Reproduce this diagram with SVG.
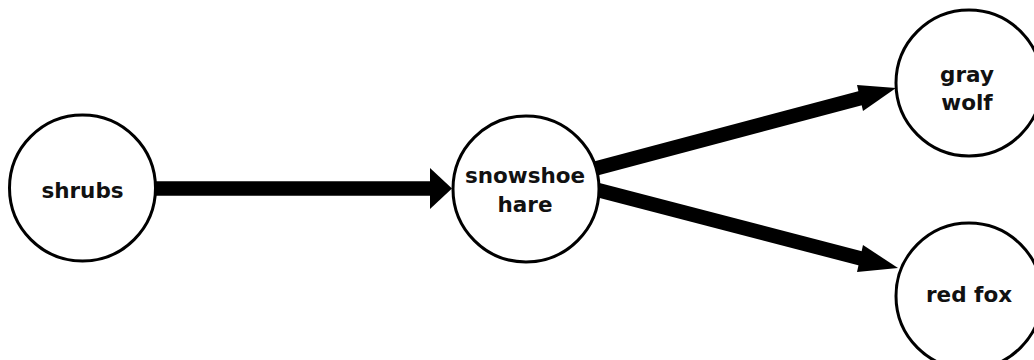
<svg xmlns="http://www.w3.org/2000/svg" width="1034" height="360" viewBox="0 0 1034 360">
<style>
.node{fill:#fff;stroke:#000;stroke-width:3}
.lbl{font-family:"DejaVu Sans",sans-serif;font-weight:bold;font-size:21.5px;fill:#111;text-anchor:middle}
.edge{stroke:#000;stroke-width:14.5;fill:none}
.head{fill:#000}
</style>
<rect width="1034" height="360" fill="#fff"/>
<g id="connectors">
<line class="edge" x1="150" y1="188.5" x2="432" y2="188.5"/>
<polygon class="head" points="430,168 452,188.5 430,209"/>
<line class="edge" x1="590" y1="170" x2="861" y2="98"/>
<polygon class="head" points="857,85 896,88 863,111"/>
<line class="edge" x1="590" y1="188" x2="861" y2="258.5"/>
<polygon class="head" points="863,245 898,268 857,272"/>
</g>
<g id="shrubs">
<circle class="node" cx="82.5" cy="188" r="73"/>
<text class="lbl" x="82.5" y="198">shrubs</text>
</g>
<g id="snowshoe-hare">
<circle class="node" cx="526" cy="189" r="73"/>
<text class="lbl" x="525" y="183">snowshoe</text>
<text class="lbl" x="525" y="211.5">hare</text>
</g>
<g id="gray-wolf">
<circle class="node" cx="969" cy="83" r="73"/>
<text class="lbl" x="967" y="81.5">gray</text>
<text class="lbl" x="967" y="110">wolf</text>
</g>
<g id="red-fox">
<circle class="node" cx="969" cy="296" r="73"/>
<text class="lbl" x="969" y="301.5">red fox</text>
</g>
</svg>
